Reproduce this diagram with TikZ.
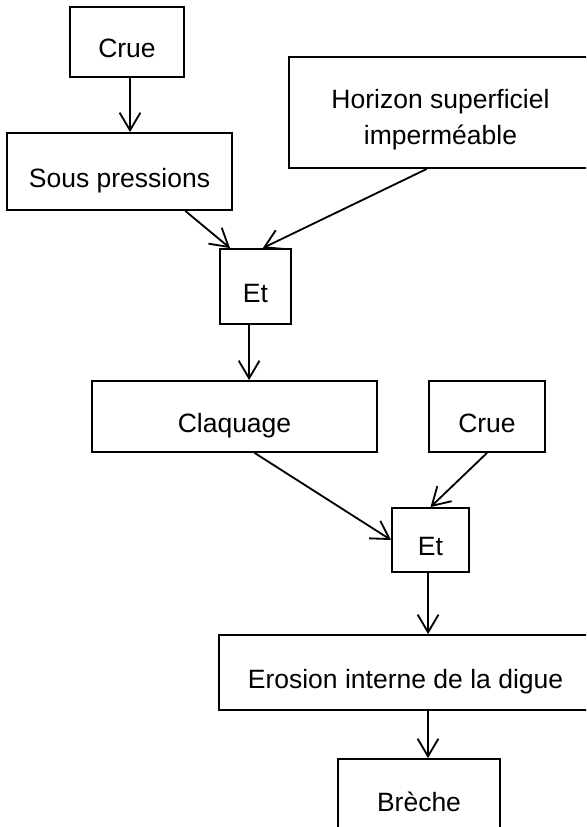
\documentclass[tikz,border=0pt]{standalone}
\usepackage{fontspec}
\setmainfont{Liberation Sans}
\usetikzlibrary{arrows.meta,calc}

\begin{document}
\begin{tikzpicture}[x=0.025cm,y=-0.025cm,
    boite/.style={draw,line width=1.3pt,inner sep=0pt,align=center,
      font=\fontsize{18.85}{26}\selectfont},
    ligne/.style={text height=0.78cm,text depth=0pt},
    fleche/.style={->,line width=1.3pt},
    >={Straight Barb[length=4.4mm,width=5.2mm]}]
\useasboundingbox (0,0) rectangle (586,827);
\clip (0,0) rectangle (586,827);
\node[boite,ligne,minimum width=2.85cm,minimum height=1.75cm] (crue1) at (127,42) {Crue};
\node[boite,ligne,minimum width=5.625cm,minimum height=1.925cm] (sous) at (119.5,171.5) {Sous pressions};
\node[boite,minimum width=7.575cm,minimum height=2.775cm] (horizon) at (440.5,112.5) {\rule{0pt}{0.84cm}Horizon superficiel\\imperméable};
\node[boite,ligne,minimum width=1.775cm,minimum height=1.875cm] (et1) at (255.5,286.5) {Et};
\node[boite,ligne,minimum width=7.125cm,minimum height=1.775cm] (claquage) at (234.5,416.5) {Claquage};
\node[boite,ligne,minimum width=2.9cm,minimum height=1.775cm] (crue2) at (487,416.5) {Crue};
\node[boite,ligne,minimum width=1.925cm,minimum height=1.6cm] (et2) at (430.5,540) {Et};
\node[boite,ligne,minimum width=9.325cm,minimum height=1.875cm] (erosion) at (405.5,672.5) {Erosion interne de la digue};
\node[boite,ligne,minimum width=4.05cm,minimum height=1.85cm] (breche) at (419,796) {Brèche};

\draw[fleche] ([xshift=0.075cm]crue1.south) -- ([xshift=0.075cm]crue1.south |- sous.north);
\draw[fleche] ($(sous.south west)!.79!(sous.south east)$) -- ($(et1.north west)!.15!(et1.north east)$);
\draw[fleche] ($(horizon.south west)!.455!(horizon.south east)$) -- ($(et1.north west)!.6!(et1.north east)$);
\draw[fleche] ([xshift=-0.16cm]et1.south) -- ([xshift=-0.16cm]et1.south |- claquage.north);
\draw[fleche] ($(claquage.south west)!.57!(claquage.south east)$) -- (et2.west);
\draw[fleche] (crue2.south) -- (et2.north);
\draw[fleche] ([xshift=-0.06cm]et2.south) -- ([xshift=-0.06cm]et2.south |- erosion.north);
\draw[fleche] ([xshift=0.225cm]breche.north |- erosion.south) -- ([xshift=0.225cm]breche.north);
\end{tikzpicture}
\end{document}
